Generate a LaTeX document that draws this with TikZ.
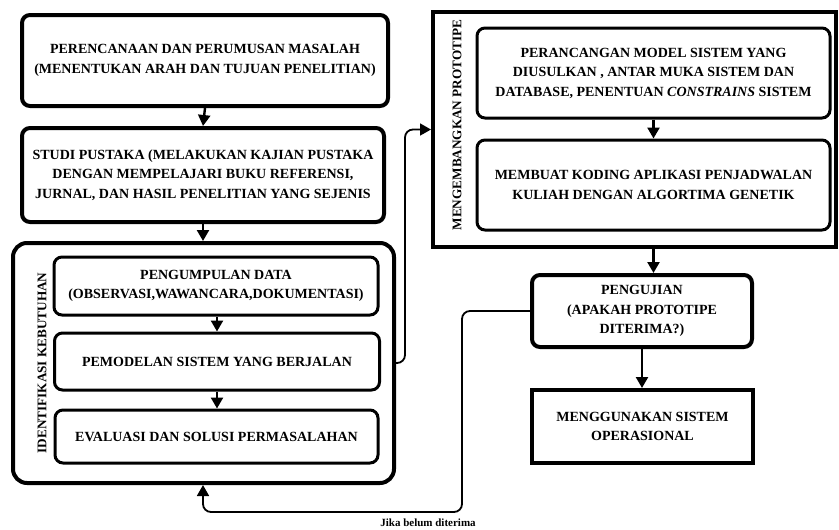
\documentclass[tikz,border=0pt]{standalone}
\usepackage{fontspec}
\setmainfont{Liberation Serif}[BoldFont={Liberation Serif Bold}, ItalicFont={Liberation Serif Italic}, BoldItalicFont={Liberation Serif Bold Italic}]
\usetikzlibrary{arrows.meta}
\begin{document}
\begin{tikzpicture}[x=1pt,y=-1pt,
  every node/.style={font=\bfseries\fontsize{14}{19.5}\selectfont, align=center, inner sep=0pt},
  box/.style={draw, line width=4pt, rounded corners=8pt, fill=white},
  sqbox/.style={draw, line width=4pt, fill=white},
  inbox/.style={draw, line width=3pt, rounded corners=8pt, fill=white},
  arr/.style={line width=2.4pt, -{Triangle[length=11pt,width=12pt]}},
  conn/.style={line width=1.8pt, rounded corners=8pt, -{Triangle[length=11pt,width=12pt]}},
  vlabel/.style={rotate=90, font=\bfseries\fontsize{13.2}{15}\selectfont}
]
\useasboundingbox (0,0) rectangle (839,530);
% left column
\node[box, minimum width=366pt, minimum height=91pt] (p1) at (205,60.5)
  {PERENCANAAN DAN PERUMUSAN MASALAH\\(MENENTUKAN ARAH DAN TUJUAN PENELITIAN)};
\node[box, minimum width=362pt, minimum height=94pt] (p2) at (203,175)
  {STUDI PUSTAKA (MELAKUKAN KAJIAN PUSTAKA\\DENGAN MEMPELAJARI BUKU REFERENSI,\\JURNAL, DAN HASIL PENELITIAN YANG SEJENIS};
\node[box, rounded corners=14pt, minimum width=381pt, minimum height=240pt] (ident) at (203.5,363) {};
\node[vlabel] (identlbl) at (42,363) {IDENTIFIKASI KEBUTUHAN};
\node[inbox, minimum width=324pt, minimum height=58pt] (g1) at (216,286)
  {PENGUMPULAN DATA\\(OBSERVASI,WAWANCARA,DOKUMENTASI)};
\node[inbox, minimum width=325pt, minimum height=57pt] (g2) at (217,361.5)
  {PEMODELAN SISTEM YANG BERJALAN};
\node[inbox, minimum width=323pt, minimum height=53pt] (g3) at (216.5,436.5)
  {EVALUASI DAN SOLUSI PERMASALAHAN};
% right column
\node[sqbox, minimum width=403pt, minimum height=235pt] (proto) at (634.5,129.5) {};
\node[vlabel] (protolbl) at (457,125) {MENGEMBANGKAN PROTOTIPE};
\node[inbox, minimum width=353pt, minimum height=90pt] (r1) at (653.5,73)
  {PERANCANGAN MODEL SISTEM YANG\\DIUSULKAN , ANTAR MUKA SISTEM DAN\\DATABASE, PENENTUAN \textit{CONSTRAINS} SISTEM};
\node[inbox, minimum width=353pt, minimum height=90pt] (r2) at (653.5,185)
  {MEMBUAT KODING APLIKASI PENJADWALAN\\KULIAH DENGAN ALGORTIMA GENETIK};
\node[box, minimum width=220pt, minimum height=72pt] (uji) at (642,311)
  {PENGUJIAN\\(APAKAH PROTOTIPE\\DITERIMA?)};
\node[sqbox, minimum width=221pt, minimum height=73pt] (ops) at (642.5,426.5)
  {MENGGUNAKAN SISTEM\\OPERASIONAL};
% arrows
\draw[arr] (p1.south) -- (p2.north);
\draw[arr] (p2.south) -- (ident.north -| p2.south);
\draw[arr] (g1.south -| g2.north) -- (g2.north);
\draw[arr] (g2.south) -- (g3.north -| g2.south);
\draw[arr] (r1.south) -- (r2.north);
\draw[arr] (proto.south -| r1.south) -- (uji.north -| r1.south);
\draw[arr] (uji.south) -- (ops.north -| uji.south);
\draw[conn] (ident.east) -- ++(9,0) |- (proto.west);
\coordinate (fb1) at (462,512);
\draw[conn] (uji.west) -| (fb1) -| (ident.south -| p2.south);
\node[font=\bfseries\fontsize{11}{13}\selectfont] (fblbl) at (428,523) {Jika belum diterima};
\end{tikzpicture}
\end{document}
